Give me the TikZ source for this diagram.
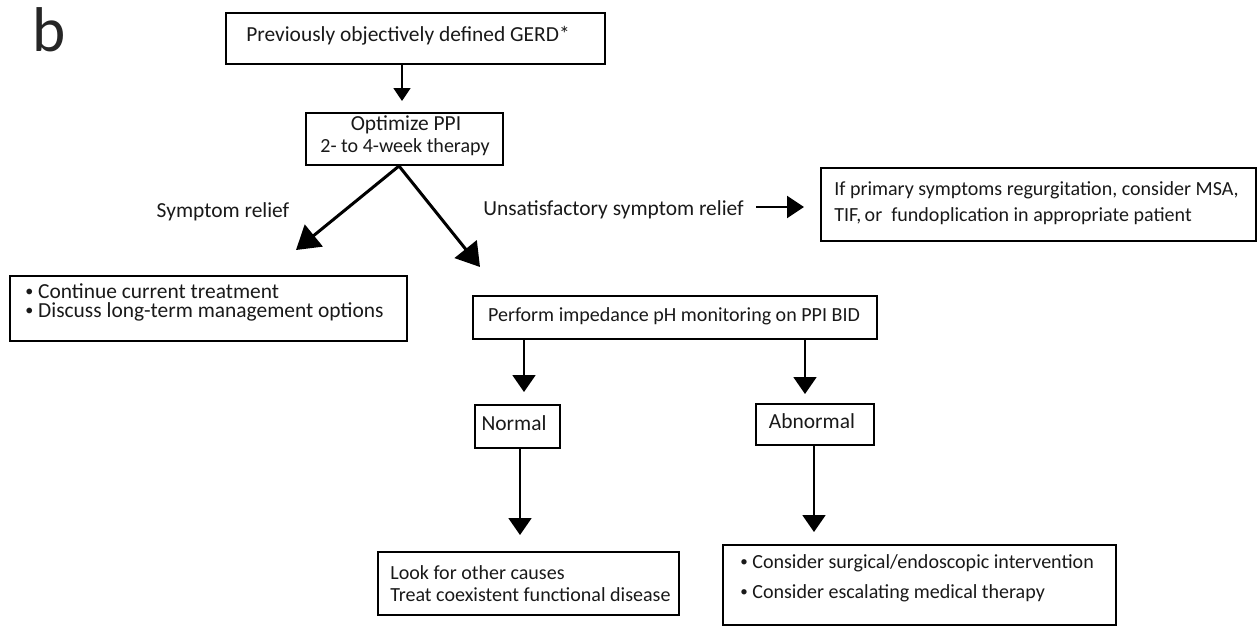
\documentclass[tikz,border=0pt]{standalone}
\usepackage{fontspec}
\setmainfont{Carlito}
\usetikzlibrary{arrows.meta,fit}
\newcommand{\smbul}{\raisebox{0.08em}{\scalebox{0.75}{\textbullet}}\ }
\begin{document}
\begin{tikzpicture}[x=0.02cm,y=-0.02cm,
  box/.style={draw=black, line width=0.04cm, inner sep=0pt, fit={#1}},
  txt/.style={font=\fontsize{12.2}{14}\selectfont, inner sep=0pt, text=black!90},
  txtm/.style={font=\fontsize{11.4}{13}\selectfont, inner sep=0pt, text=black!90},
  arrthin/.style={line width=0.03cm, -{Triangle[width=0.34cm,length=0.26cm]}},
  arrv/.style={line width=0.04cm, -{Triangle[width=0.46cm,length=0.34cm]}},
  arrd/.style={line width=0.06cm, -{Triangle[width=0.56cm,length=0.46cm]}},
  arrh/.style={line width=0.045cm, -{Triangle[width=0.44cm,length=0.34cm]}}
]
\useasboundingbox (0,0) rectangle (1259,627);

% label
\node[font=\fontsize{36}{36}\selectfont, inner sep=0pt, anchor=base west, text=black!85] (lab) at (32,51) {b};

% boxes
\node[box={(226,13)(605,64)}] (top) {};
\node[box={(306,113)(503,165)}] (opt) {};
\node[box={(821,168)(1256,241)}] (right) {};
\node[box={(10,276)(407,341)}] (cont) {};
\node[box={(473,296)(877,339)}] (imp) {};
\node[box={(475,405)(560,448)}] (norm) {};
\node[box={(378,552)(679,615)}] (look) {};
\node[box={(756,404)(874,445)}] (abn) {};
\node[box={(723,545)(1116,625)}] (cons) {};

% texts
\node[txt] (tTop) at (408,36) {Previously objectively defined GERD*};
\node[txt] (tOpt1) at (406,125) {Optimize PPI};
\node[txtm] (tOpt2) at (405,147) {2- to 4-week therapy};
\node[txt] (tRel) at (223,212) {Symptom relief};
\node[txt, anchor=west] (tUns) at (483,210) {Unsatisfactory symptom relief};
\node[txtm, anchor=west] (tR1) at (834,190) {If primary symptoms regurgitation, consider MSA,};
\node[txtm, anchor=west] (tR2) at (834,216) {TIF,\,or\ \ fundoplication in appropriate patient};
\node[txt, anchor=west] (tC1) at (25,291) {\smbul Continue current treatment};
\node[txt, anchor=west] (tC2) at (25,312) {\smbul Discuss long-term management options};
\node[txtm] (tImp) at (674,316) {Perform impedance pH monitoring on PPI BID};
\node[txt] (tNorm) at (514,423) {Normal};
\node[txt] (tAbn) at (812,421) {Abnormal};
\node[txtm, anchor=west] (tL1) at (390,573) {Look for other causes};
\node[txtm, anchor=west] (tL2) at (390,595) {Treat coexistent functional disease};
\node[txtm, anchor=west] (tS1) at (740,563) {\smbul Consider surgical/endoscopic intervention};
\node[txtm, anchor=west] (tS2) at (740,593) {\smbul Consider escalating medical therapy};

% connectors
\coordinate (tipL) at (296,250);
\coordinate (tipR) at (480,267);
\draw[arrthin, shorten >=0.22cm] (top.south -| 402,0) -- (opt.north -| 402,0);
\draw[arrd] ([xshift=-0.11cm]opt.south) -- (tipL);
\draw[arrd] ([xshift=-0.11cm]opt.south) -- (tipR);
\draw[arrh, shorten <=0.24cm, shorten >=0.32cm] (tUns.east |- 0,207) -- (right.west |- 0,207);
\draw[arrv, shorten >=0.24cm] (imp.south -| 524,0) -- (norm.north -| 524,0);
\draw[arrv, shorten >=0.32cm] (norm.south -| 520,0) -- (look.north -| 520,0);
\draw[arrv, shorten >=0.18cm] (imp.south -| 805,0) -- (abn.north -| 805,0);
\draw[arrv, shorten >=0.24cm] (abn.south -| 814,0) -- (cons.north -| 814,0);
\end{tikzpicture}
\end{document}
